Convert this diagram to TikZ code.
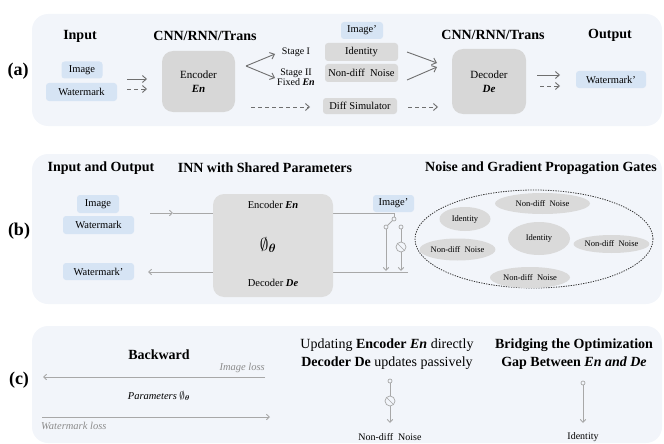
\documentclass[tikz,border=0pt]{standalone}
\usepackage{fontspec}
\setmainfont{Liberation Serif}
\usepackage{amsmath}
\usetikzlibrary{arrows.meta,shapes.geometric}

\definecolor{panelbg}{HTML}{F2F5FA}
\definecolor{boxblue}{HTML}{D6E4F4}
\definecolor{boxgray}{HTML}{DADADA}
\definecolor{netgray}{HTML}{D7D7D7}
\definecolor{inngray}{HTML}{DEDEDE}
\definecolor{darkarrow}{HTML}{6F6F6F}
\definecolor{lightarrow}{HTML}{A8A8A8}
\definecolor{labelgray}{HTML}{8C8C8C}
\definecolor{ringline}{HTML}{333333}

\tikzset{
  panel/.style={fill=panelbg, draw=none, rounded corners=16pt},
  bluebox/.style={fill=boxblue, rounded corners=3pt, inner sep=0pt, font=\fontsize{10.5}{12}\selectfont},
  graybox/.style={fill=boxgray, rounded corners=3pt, inner sep=0pt, font=\fontsize{10.5}{12}\selectfont},
  netbox/.style={fill=netgray, rounded corners=11pt, inner sep=0pt, align=center, font=\fontsize{11}{13}\selectfont},
  heading/.style={font=\fontsize{14}{16}\selectfont\bfseries, inner sep=0pt},
  tag/.style={font=\fontsize{18}{20}\selectfont\bfseries, inner sep=0pt},
  plain/.style={font=\fontsize{10.5}{12}\selectfont, inner sep=0pt},
  small/.style={font=\fontsize{10}{10}\selectfont, inner sep=0pt, align=center},
  gate/.style={ellipse, fill=boxgray, inner sep=0pt, font=\fontsize{8.5}{10}\selectfont},
  flow/.style={draw=darkarrow, line width=0.9pt, -{Straight Barb[length=4pt,width=7pt]}},
  dflow/.style={flow, dash pattern=on 4pt off 3pt},
  grad/.style={draw=lightarrow, line width=0.9pt},
  gradarr/.style={grad, -{Straight Barb[length=3pt,width=5.5pt]}},
  pin/.style={circle, draw=lightarrow, fill=panelbg, line width=0.7pt, inner sep=0pt, minimum size=4pt},
  cut/.style={circle, draw=lightarrow, fill=panelbg, line width=0.7pt, inner sep=0pt, minimum size=10pt,
    path picture={\draw[lightarrow, line width=0.7pt] (path picture bounding box.north west) -- (path picture bounding box.south east);}},
  losslabel/.style={font=\fontsize{10.5}{12}\selectfont\itshape, text=labelgray, inner sep=0pt},
}

\begin{document}
\begin{tikzpicture}[x=1pt,y=-1pt]
\useasboundingbox (0,0) rectangle (664,444);

% ---------- background panels ----------
\fill[panel] (32,14) rectangle (662,126);
\fill[panel] (32,154) rectangle (662,304);
\fill[panel] (32,326) rectangle (662,443);

% ---------- (a) conventional pipeline ----------
\node[tag] (la) at (18,71) {(a)};
\node[heading] (hin) at (80,36) {Input};
\node[heading] (henc) at (205,36) {CNN/RNN/Trans};
\node[heading] (hdec) at (493,35) {CNN/RNN/Trans};
\node[heading] (hout) at (610,35) {Output};

\node[bluebox, minimum width=41pt, minimum height=17pt] (img) at (82,70) {Image};
\node[bluebox, minimum width=71pt, minimum height=18pt] (wm) at (81.5,92) {Watermark};
\node[netbox, minimum width=73pt, minimum height=61pt] (enc) at (198.5,81.5) {Encoder\\[1pt]\textbf{\textit{En}}};

\coordinate (inA) at (127,79);  \coordinate (inB) at (147,79);
\coordinate (inC) at (127,89);  \coordinate (inD) at (147,89);
\draw[flow] (inA) -- (inB);
\draw[dflow] (inC) -- (inD);

\coordinate (fork) at (246,66);
\coordinate (s1) at (275,54);
\coordinate (s2) at (275,78);
\draw[flow] (fork) -- (s1);
\draw[flow] (fork) -- (s2);
\node[small] (st1) at (296,52) {Stage I};
\node[small] (st2) at (296,77) {Stage II\\Fixed \textbf{\textit{En}}};

\node[bluebox, minimum width=42pt, minimum height=17pt] (imgp) at (362,30.5) {Image\textquoteright};
\node[graybox, minimum width=73pt, minimum height=18pt] (ident) at (361.5,52) {Identity};
\node[graybox, minimum width=73pt, minimum height=18pt] (ndn) at (361.5,73) {Non-diff\ \ Noise};
\node[graybox, minimum width=74pt, minimum height=16pt] (dsim) at (360,106) {Diff Simulator};

\coordinate (simA) at (251,107); \coordinate (simB) at (310,107);
\draw[dflow] (simA) -- (simB);

\coordinate (mA) at (407,52); \coordinate (mB) at (437,63);
\coordinate (mC) at (407,80); \coordinate (mD) at (437,67);
\draw[flow] (mA) -- (mB);
\draw[flow] (mC) -- (mD);
\coordinate (sdA) at (408,107); \coordinate (sdB) at (438,107);
\draw[dflow] (sdA) -- (sdB);

\node[netbox, minimum width=74pt, minimum height=65pt] (dec) at (489,81.5) {Decoder\\[1pt]\textbf{\textit{De}}};

\coordinate (oA) at (537,75); \coordinate (oB) at (560,75);
\coordinate (oC) at (540,86); \coordinate (oD) at (560,86);
\draw[flow] (oA) -- (oB);
\draw[dflow] (oC) -- (oD);
\node[bluebox, minimum width=70pt, minimum height=17pt] (wmp) at (611,79.5) {Watermark\textquoteright};

% ---------- (b) invertible network ----------
\node[tag] (lb) at (19,231) {(b)};
\node[heading] (hio) at (101,168) {Input and Output};
\node[heading] (hinn) at (265,168) {INN with Shared Parameters};
\node[heading] (hgate) at (541,168) {Noise and Gradient Propagation Gates};

\node[bluebox, minimum width=42pt, minimum height=18pt] (bimg) at (98,204) {Image};
\node[bluebox, minimum width=71pt, minimum height=18pt] (bwm) at (98.5,225) {Watermark};
\node[bluebox, minimum width=71pt, minimum height=17pt] (bwmp) at (98.5,271.5) {Watermark\textquoteright};

% forward and reverse lines (the network box sits on top of them)
\node[pin] (pA) at (394,219) {};
\coordinate (tin) at (150,213);
\coordinate (tmid) at (173,213);
\coordinate (tcorner) at (394,213);
\draw[gradarr] (tin) -- (tmid);
\draw[grad] (tmid) -- (tcorner) -- (pA.north);
\coordinate (bstart) at (408,272);
\coordinate (bend) at (148,272);
\draw[gradarr] (bstart) -- (bend);

\node[netbox, fill=inngray, minimum width=120pt, minimum height=103pt] (inn) at (273,245.5) {};
\node[plain] (encl) at (273,205) {Encoder \textbf{\textit{En}}};
\node[plain] (decl) at (273,283) {Decoder \textbf{\textit{De}}};
\node[inner sep=0pt, font=\fontsize{17}{18}\selectfont] (phi) at (268,245) {$\emptyset_{\boldsymbol{\theta}}$};

% two-way switch
\node[pin] (pB) at (386,227) {};
\node[pin] (pC) at (401,227) {};
\node[cut] (cB) at (401,247) {};
\coordinate (pBend) at (386,271);
\coordinate (pCend) at (401,271);
\draw[grad] (pA) -- (pB);
\draw[gradarr] (pB) -- (pBend);
\draw[grad] (pC) -- (cB);
\draw[gradarr] (cB) -- (pCend);
\node[bluebox, minimum width=41pt, minimum height=17pt] (bimgp) at (393.5,203.5) {Image\textquoteright};

% gate pool
\node[draw=ringline, line width=0.8pt, dash pattern=on 1.3pt off 1.2pt, ellipse, inner sep=0pt,
      minimum width=238pt, minimum height=98pt] (pool) at (534,239) {};
\node[gate, minimum width=95pt, minimum height=21pt] (g1) at (542.5,203.5) {Non-diff\ \ Noise};
\node[gate, minimum width=51pt, minimum height=24pt] (g2) at (465,219) {Identity};
\node[gate, minimum width=62pt, minimum height=33pt] (g3) at (539,238.5) {Identity};
\node[gate, minimum width=72pt, minimum height=22pt] (g4) at (457.5,249.5) {Non-diff\ \ Noise};
\node[gate, minimum width=75pt, minimum height=18pt] (g5) at (611.5,244) {Non-diff\ \ Noise};
\node[gate, minimum width=80pt, minimum height=21pt] (g6) at (530,277.5) {Non-diff\ \ Noise};

% ---------- (c) backward pass ----------
\node[tag] (lc) at (19,380) {(c)};
\node[heading] (hback) at (159,355) {Backward};
\node[losslabel, anchor=east] (iloss) at (265,368) {Image loss};
\coordinate (ilA) at (265,377); \coordinate (ilB) at (43,377);
\draw[gradarr] (ilA) -- (ilB);
\node[inner sep=0pt, font=\fontsize{10.5}{12}\selectfont\itshape] (params) at (159,396) {Parameters $\emptyset_{\boldsymbol{\theta}}$};
\coordinate (wlA) at (42,417); \coordinate (wlB) at (270,417);
\draw[gradarr] (wlA) -- (wlB);
\node[losslabel, anchor=west] (wloss) at (41,426) {Watermark loss};

\node[inner sep=0pt, align=center, font=\fontsize{14}{18}\selectfont] (upd) at (387,354)
  {Updating \textbf{Encoder \textit{En}} directly\\\textbf{Decoder De} updates passively};
\node[pin] (cpA) at (390,381) {};
\node[cut] (ccut) at (390,401) {};
\coordinate (cend) at (390,423);
\draw[grad] (cpA) -- (ccut);
\draw[gradarr] (ccut) -- (cend);
\node[plain, font=\fontsize{10}{11}\selectfont] (cnd) at (390,437) {Non-diff\ \ Noise};

\node[inner sep=0pt, align=center, font=\fontsize{14}{18}\selectfont\bfseries] (bridge) at (574,354)
  {Bridging the Optimization\\Gap Between \textit{En and De}};
\node[pin] (ipA) at (583,383) {};
\coordinate (iend) at (583,423);
\draw[gradarr] (ipA) -- (iend);
\node[plain, font=\fontsize{10}{11}\selectfont] (cid) at (583,437) {Identity};

\end{tikzpicture}
\end{document}
